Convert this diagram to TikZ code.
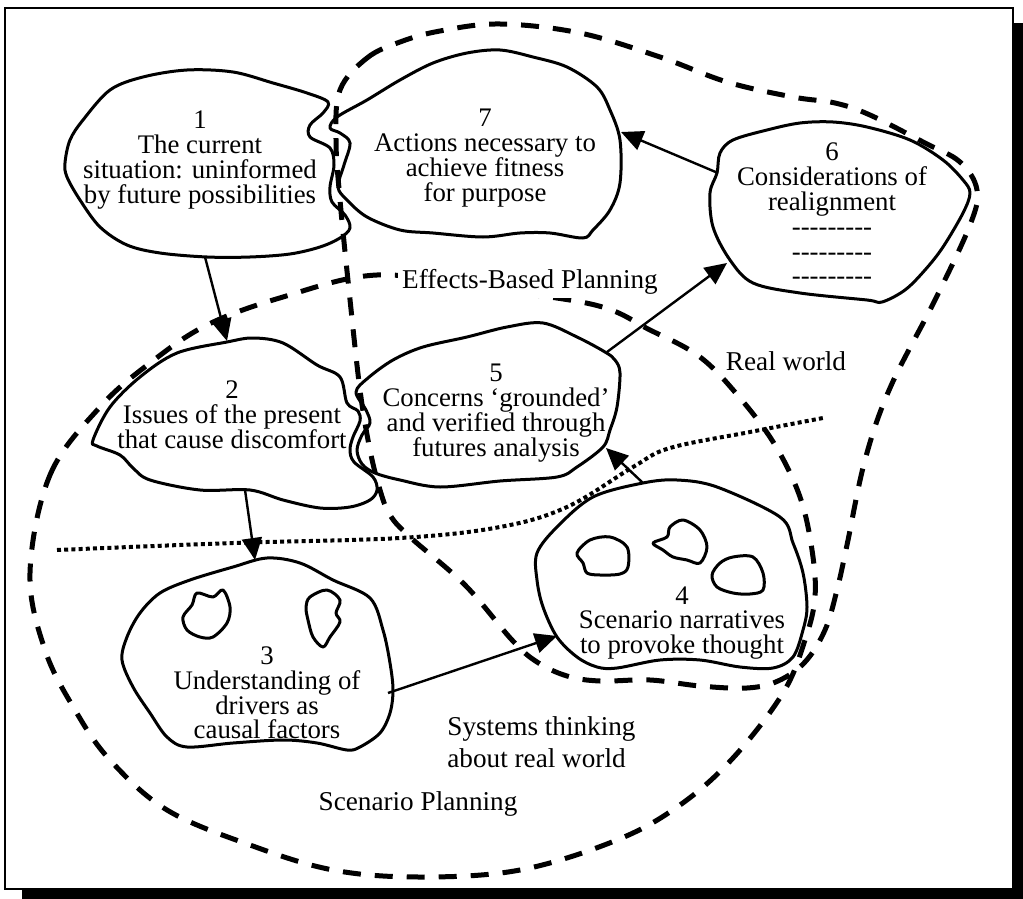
\documentclass[tikz,border=0pt]{standalone}
\usepackage{fontspec}
\setmainfont{Liberation Serif}
\usetikzlibrary{arrows.meta}
\tikzset{>={Triangle[length=11pt,width=10pt]}}
\tikzset{blob-line/.style={line width=1.5pt, line join=round}}
\tikzset{flow-arrow/.style={->, line width=1.2pt}}
\tikzset{region-line/.style={line width=2.5pt, dash pattern=on 9pt off 7pt}}
\tikzset{border-line/.style={line width=2pt, dash pattern=on 2pt off 1.6pt}}
\tikzset{blob-text/.style={align=center, inner sep=0pt, font=\fontsize{13.4}{12.4}\selectfont}}
\tikzset{region-text/.style={inner sep=0pt, font=\fontsize{13.6}{16}\selectfont}}
\newcommand{\dashrow}{-\kern0pt-\kern0pt-\kern0pt-\kern0pt-\kern0pt-\kern0pt-\kern0pt-\kern0pt-}
\lineskiplimit=-100pt

\begin{document}
\begin{tikzpicture}[x=0.5pt, y=-0.5pt]
    \useasboundingbox (0,0) rectangle (1023,899);
    % frame with shadow
    \draw[line width=1pt] (5,8) rectangle (1013,889);
    \fill (22,889) rectangle (1023,899);
    \fill (1013,23) rectangle (1023,899);

    % dashed regions
    \draw[region-line] plot[smooth cycle, tension=0.6] coordinates {
        (30,573) (50,475) (100,407) (150,363) (207,325) (283,297) (377,275)
        (480,288) (595,305) (650,330) (700,357) (740,398) (775,445) (800,497)
        (812,550) (815,597) (805,640) (783,693) (733,758) (680,805) (617,840)
        (520,870) (420,877) (333,870) (250,845) (167,810) (110,760) (75,710) (45,650)};
    \draw[region-line] plot[smooth cycle, tension=0.6] coordinates {
        (340,90) (367,58) (400,42) (440,31) (500,24) (580,33) (660,57) (727,82)
        (793,97) (835,103) (870,115) (925,143) (960,162) (977,190) (970,225)
        (935,300) (890,388) (865,460) (847,545) (837,590) (825,630) (805,662)
        (778,681) (747,688) (700,686) (650,680) (600,681) (567,676) (537,662)
        (512,640) (465,585) (410,537) (390,515) (380,490) (370,450) (360,390)
        (349,290) (340,200) (336,140)};
    \draw[border-line] plot[smooth, tension=0.6] coordinates {
        (57,550) (233,543) (400,538) (500,527) (567,507) (633,467) (670,448)
        (750,432) (823,418)};

    % blobs
    \draw[blob-line] plot[smooth cycle, tension=0.55] coordinates {
        (65,163) (70,140) (83,120) (110,90) (143,77) (187,70) (233,72) (273,83)
        (307,93) (328,102) (323,113) (310,125) (310,137) (330,148) (334,165)
        (330,187) (332,202) (345,215) (350,228) (340,238) (320,247) (290,254)
        (250,257) (207,257) (160,253) (127,245) (100,227) (80,200) (67,177)};
    \draw[blob-line] plot[smooth cycle, tension=0.55] coordinates {
        (337,117) (367,100) (400,80) (433,63) (467,53) (500,50) (533,57)
        (567,67) (597,87) (610,110) (620,140) (620,183) (610,210) (593,230)
        (583,238) (550,233) (520,233) (483,237) (433,233) (400,230) (367,217)
        (347,200) (338,187) (344,165) (350,143) (340,133) (330,128)};
    \draw[blob-line] plot[smooth cycle, tension=0.55] coordinates {
        (720,153) (717,173) (710,193) (713,227) (730,260) (753,283) (800,293)
        (867,300) (882,302) (905,290) (925,270) (943,247) (963,213) (970,193)
        (963,180) (943,160) (910,140) (867,127) (833,122) (800,123) (767,130)
        (733,140)};
    \draw[blob-line] plot[smooth cycle, tension=0.55] coordinates {
        (93,440) (110,407) (140,377) (177,353) (227,342) (253,338) (283,343)
        (317,365) (340,377) (347,403) (358,411) (360,421) (353,437) (350,450)
        (354,462) (373,477) (377,490) (370,500) (350,507) (320,508) (283,500)
        (250,490) (200,490) (150,480) (133,468) (120,455) (97,446)};
    \draw[blob-line] plot[smooth cycle, tension=0.55] coordinates {
        (356,392) (366,410) (370,423) (362,435) (357,450) (362,464) (375,473)
        (400,480) (440,487) (500,481) (557,477) (577,467) (603,447) (610,430)
        (617,407) (620,373) (615,360) (605,352) (577,337) (543,323) (507,327)
        (467,337) (423,347) (393,360) (368,378)};
    \draw[blob-line] plot[smooth cycle, tension=0.55] coordinates {
        (190,580) (233,567) (267,558) (300,563) (333,580) (370,598) (383,630)
        (390,663) (393,690) (390,713) (380,733) (360,747) (347,750) (317,743)
        (283,740) (233,743) (187,747) (167,737) (150,713) (133,687) (122,660)
        (127,637) (140,613) (160,593)};
    \draw[blob-line] plot[smooth cycle, tension=0.55] coordinates {
        (197,593) (213,597) (223,590) (230,607) (227,623) (213,637) (200,637)
        (187,630) (183,617) (192,605)};
    \draw[blob-line] plot[smooth cycle, tension=0.55] coordinates {
        (310,597) (327,590) (340,600) (336,613) (340,622) (330,637) (323,647)
        (313,637) (308,620) (306,607)};
    \draw[blob-line] plot[smooth cycle, tension=0.55] coordinates {
        (537,553) (557,527) (593,497) (643,483) (677,480) (717,487) (780,517)
        (793,543) (803,573) (807,607) (803,630) (793,657) (773,668) (740,667)
        (700,660) (660,660) (617,668) (597,667) (577,657) (557,637) (543,607)
        (537,580)};
    \draw[blob-line] plot[smooth cycle, tension=0.55] coordinates {
        (577,553) (590,540) (610,537) (627,547) (628,567) (620,574) (600,575)
        (587,573) (583,563)};
    \draw[blob-line] plot[smooth cycle, tension=0.55] coordinates {
        (653,543) (667,537) (670,527) (683,520) (700,530) (707,547) (700,563)
        (687,560) (673,557) (663,550)};
    \draw[blob-line] plot[smooth cycle, tension=0.55] coordinates {
        (720,563) (733,557) (753,557) (763,573) (763,590) (750,594) (733,593)
        (717,587) (712,575)};

    % blob texts
    \node[blob-text] (step1) at (200,160) {1\\The current\\situation: uninformed\\by future possibilities};
    \node[blob-text] (step7) at (485,158) {7\\Actions necessary to\\achieve fitness\\for purpose};
    \node[blob-text] (step6) at (832,214) {6\\Considerations of\\realignment\\\dashrow\\\dashrow\\\dashrow};
    \node[blob-text] (step2) at (232,415) {2\\Issues of the present\\that cause discomfort};
    \node[blob-text] (step5) at (496,413) {5\\Concerns `grounded'\\and verified through\\futures analysis};
    \node[blob-text] (step3) at (267,693) {3\\Understanding of\\drivers as\\causal factors};
    \node[blob-text] (step4) at (682,623) {4\\Scenario narratives\\to provoke thought};

    % region labels
    \node[region-text, anchor=base, fill=white, inner sep=2pt] (effects) at (530,288) {Effects-Based Planning};
    \node[region-text, anchor=base] (realworld) at (786,370) {Real world};
    \node[region-text, anchor=north west, align=left] (systems) at (447,716) {Systems thinking\\about real world};
    \node[region-text, anchor=base] (scenario) at (418,810) {Scenario Planning};

    % arrows between blobs
    \coordinate (out1) at (205,257);
    \coordinate (in2) at (227,341);
    \coordinate (out2) at (245,490);
    \coordinate (in3) at (255,560);
    \coordinate (out3) at (388,693);
    \coordinate (in4) at (557,636);
    \coordinate (out4) at (643,483);
    \coordinate (in5) at (606,448);
    \coordinate (out5) at (607,352);
    \coordinate (in6) at (727,263);
    \coordinate (out6) at (718,173);
    \coordinate (in7) at (621,132);
    \draw[flow-arrow] (out1) -- (in2);
    \draw[flow-arrow] (out2) -- (in3);
    \draw[flow-arrow] (out3) -- (in4);
    \draw[flow-arrow] (out4) -- (in5);
    \draw[flow-arrow] (out5) -- (in6);
    \draw[flow-arrow] (out6) -- (in7);
\end{tikzpicture}
\end{document}
